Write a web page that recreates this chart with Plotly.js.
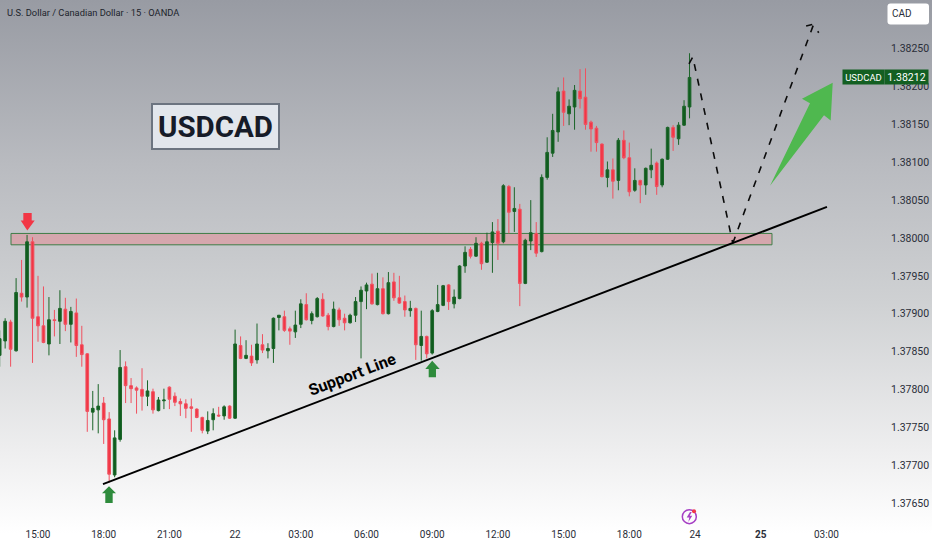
<!DOCTYPE html>
<html>
<head>
<meta charset="utf-8">
<script src="https://cdn.plot.ly/plotly-3.0.1.min.js"></script>
<style>
  html, body { margin: 0; padding: 0; width: 932px; height: 550px; overflow: hidden;
    background: linear-gradient(180deg, #989ba3 0%, #b9bbc0 30%, #cfd1d3 55%, #eeeeef 82%, #ffffff 97%); }
  #plot { width: 932px; height: 550px; }
</style>
</head>
<body>
<div id="plot"></div>
<script>
// 15 minute bars, the first bar is 7 bars before the 15:00 tick
const firstBar = -7;
const opens = [
  1.37845,1.37864,1.37889,1.37851,1.37927,1.37922,1.37995,1.37896,1.37884,1.37860,1.37892,1.37890,1.37906,1.37886,1.37901,1.37859,
  1.37847,1.37770,1.37773,1.37782,1.37761,1.37687,1.37734,1.37830,1.37805,1.37802,1.37800,1.37791,1.37797,1.37772,1.37785,1.37803,
  1.37791,1.37784,1.37781,1.37777,1.37774,1.37763,1.37745,1.37760,1.37766,1.37765,1.37778,1.37762,1.37858,1.37841,1.37844,1.37839,
  1.37859,1.37851,1.37854,1.37895,1.37896,1.37880,1.37876,1.37886,1.37912,1.37891,1.37896,1.37919,1.37898,1.37883,1.37905,1.37894,
  1.37888,1.37898,1.37916,1.37930,1.37939,1.37912,1.37933,1.37900,1.37942,1.37921,1.37916,1.37904,1.37907,1.37858,1.37870,1.37848,
  1.37903,1.37911,1.37938,1.37913,1.37920,1.37963,1.37985,1.37976,1.37993,1.37968,1.37994,1.38009,1.37995,1.38068,1.38035,1.38038,
  1.37940,1.37996,1.38006,1.37982,1.38080,1.38112,1.38140,1.38194,1.38164,1.38173,1.38194,1.38186,1.38153,1.38145,1.38124,1.38080,
  1.38090,1.38076,1.38129,1.38106,1.38063,1.38076,1.38070,1.38090,1.38099,1.38070,1.38104,1.38146,1.38131,1.38149,1.38173
];
const highs = [
  1.37878,1.37894,1.37892,1.37947,1.37971,1.38004,1.38001,1.37950,1.37936,1.37922,1.37905,1.37931,1.37921,1.37909,1.37920,1.37884,
  1.37848,1.37798,1.37807,1.37790,1.37770,1.37746,1.37852,1.37837,1.37815,1.37804,1.37828,1.37812,1.37801,1.37790,1.37801,1.37804,
  1.37796,1.37788,1.37787,1.37788,1.37775,1.37764,1.37771,1.37775,1.37777,1.37779,1.37779,1.37879,1.37870,1.37865,1.37859,1.37887,
  1.37873,1.37861,1.37895,1.37898,1.37904,1.37883,1.37904,1.37919,1.37927,1.37903,1.37922,1.37927,1.37901,1.37916,1.37908,1.37900,
  1.37900,1.37922,1.37936,1.37941,1.37953,1.37954,1.37948,1.37955,1.37954,1.37950,1.37924,1.37917,1.37908,1.37904,1.37871,1.37906,
  1.37938,1.37938,1.37939,1.37932,1.37964,1.37989,1.37988,1.38001,1.37995,1.38007,1.38021,1.38025,1.38071,1.38070,1.38067,1.38045,
  1.37999,1.38050,1.38021,1.38084,1.38133,1.38164,1.38199,1.38212,1.38183,1.38202,1.38223,1.38224,1.38155,1.38148,1.38125,1.38101,
  1.38105,1.38132,1.38142,1.38126,1.38092,1.38077,1.38093,1.38118,1.38101,1.38105,1.38147,1.38149,1.38153,1.38182,1.38244
];
const lows = [
  1.37830,1.37854,1.37830,1.37850,1.37916,1.37908,1.37835,1.37863,1.37861,1.37845,1.37870,1.37860,1.37877,1.37862,1.37843,1.37830,
  1.37744,1.37746,1.37742,1.37728,1.37677,1.37684,1.37731,1.37782,1.37782,1.37768,1.37772,1.37778,1.37768,1.37771,1.37774,1.37774,
  1.37778,1.37765,1.37762,1.37744,1.37762,1.37742,1.37741,1.37746,1.37764,1.37760,1.37761,1.37761,1.37840,1.37840,1.37831,1.37834,
  1.37848,1.37841,1.37835,1.37878,1.37876,1.37859,1.37868,1.37881,1.37891,1.37886,1.37895,1.37896,1.37878,1.37882,1.37884,1.37878,
  1.37887,1.37889,1.37841,1.37906,1.37912,1.37911,1.37899,1.37899,1.37917,1.37913,1.37896,1.37896,1.37839,1.37838,1.37841,1.37846,
  1.37902,1.37910,1.37905,1.37907,1.37919,1.37954,1.37973,1.37975,1.37958,1.37967,1.37954,1.37971,1.37993,1.38006,1.38008,1.37910,
  1.37939,1.37984,1.37975,1.37981,1.38077,1.38107,1.38127,1.38148,1.38149,1.38143,1.38171,1.38143,1.38114,1.38114,1.38080,1.38067,
  1.38052,1.38063,1.38104,1.38055,1.38061,1.38046,1.38057,1.38079,1.38057,1.38067,1.38103,1.38115,1.38123,1.38148,1.38158
];
const closes = [
  1.37867,1.37890,1.37853,1.37928,1.37922,1.37995,1.37894,1.37884,1.37862,1.37892,1.37891,1.37907,1.37886,1.37903,1.37858,1.37846,
  1.37771,1.37775,1.37778,1.37760,1.37688,1.37736,1.37829,1.37805,1.37801,1.37799,1.37791,1.37798,1.37773,1.37786,1.37786,1.37787,
  1.37783,1.37781,1.37775,1.37775,1.37763,1.37746,1.37759,1.37768,1.37765,1.37777,1.37762,1.37860,1.37841,1.37845,1.37835,1.37860,
  1.37852,1.37854,1.37894,1.37898,1.37878,1.37877,1.37885,1.37913,1.37892,1.37900,1.37920,1.37897,1.37883,1.37906,1.37892,1.37888,
  1.37898,1.37916,1.37931,1.37938,1.37913,1.37933,1.37900,1.37941,1.37921,1.37914,1.37905,1.37907,1.37859,1.37870,1.37847,1.37904,
  1.37912,1.37937,1.37916,1.37922,1.37963,1.37981,1.37976,1.37993,1.37966,1.37995,1.38008,1.37993,1.38069,1.38034,1.38039,1.37940,
  1.37997,1.38007,1.37980,1.38080,1.38113,1.38142,1.38193,1.38166,1.38174,1.38195,1.38184,1.38150,1.38144,1.38126,1.38081,1.38090,
  1.38075,1.38129,1.38106,1.38061,1.38076,1.38070,1.38092,1.38096,1.38068,1.38104,1.38146,1.38133,1.38149,1.38174,1.38212
];
const barIndex = opens.map((_, i) => firstBar + i);

// axes
const priceTicks = [1.3765,1.377,1.3775,1.378,1.3785,1.379,1.3795,1.38,1.3805,1.381,1.3815,1.382,1.3825];
const timeTicks = [0,12,24,36,48,60,72,84,96,108,120,132,144];
const timeLabels = ["15:00","18:00","21:00","22","03:00","06:00","09:00","12:00","15:00","18:00","24","<b>25</b>","03:00"];

// drawings on the chart
const zoneX = [-4.93, 134.06];
const zonePrice = [1.37991, 1.38006];
const supportX = [11.87, 144.1];
const supportPrice = [1.37675, 1.38041];
const dashDownX = [118.9, 119.6, 126.9];
const dashDownPrice = [1.38230, 1.38239, 1.37993];
const dashUpX = [126.9, 141.6, 142.6];
const dashUpPrice = [1.37993, 1.38281, 1.38271];
const dashTipX = [140.3, 141.4];
const dashTipPrice = [1.38280, 1.38282];
const bigArrowX = [133.7, 141.0, 139.54, 145.15, 144.78, 143.56, 133.7];
const bigArrowPrice = [1.38069, 1.38178, 1.38184, 1.38205, 1.38155, 1.38162, 1.38069];
const redArrowX = [-1.95, -3.16, -2.68, -2.68, -1.15, -1.15, -0.6, -1.95];
const redArrowPrice = [1.38010, 1.38023, 1.38023, 1.38033, 1.38033, 1.38023, 1.38023, 1.38010];
const greenArrow1X = [12.97, 11.69, 12.29, 12.29, 13.64, 13.64, 14.25, 12.97];
const greenArrow1Price = [1.37672, 1.37663, 1.37663, 1.37650, 1.37650, 1.37663, 1.37663, 1.37672];
const greenArrow2X = [72.0, 70.74, 71.36, 71.36, 72.69, 72.69, 73.37, 72.0];
const greenArrow2Price = [1.37838, 1.37827, 1.37827, 1.37816, 1.37816, 1.37827, 1.37827, 1.37838];
const boltX = [119.08, 118.48, 118.96, 118.78, 119.5, 119.03, 119.4, 119.08];
const boltPrice = [1.37638, 1.37631, 1.37631, 1.37625, 1.37633, 1.37633, 1.37638, 1.37638];

function polygon(x, y, color) {
  return { x: x, y: y, type: "scatter", mode: "lines", fill: "toself", fillcolor: color,
    line: { width: 0, color: color }, hoverinfo: "skip" };
}
function dashed(x, y) {
  return { x: x, y: y, type: "scatter", mode: "lines", hoverinfo: "skip",
    line: { color: "#0b0b0b", width: 1.6, dash: "7px,8px" } };
}

const data = [
  {
    type: "candlestick", x: barIndex, open: opens, high: highs, low: lows, close: closes,
    increasing: { line: { color: "#1b6428", width: 1 }, fillcolor: "#0f5c1e" },
    decreasing: { line: { color: "#f0505f", width: 1 }, fillcolor: "#f23645" },
    hoverinfo: "skip"
  },
  dashed(dashDownX, dashDownPrice),
  dashed(dashUpX, dashUpPrice),
  dashed(dashTipX, dashTipPrice),
  polygon(bigArrowX, bigArrowPrice, "#4fb84f"),
  polygon(redArrowX, redArrowPrice, "#f23645"),
  polygon(greenArrow1X, greenArrow1Price, "#2e8b3c"),
  polygon(greenArrow2X, greenArrow2Price, "#2e8b3c"),
  polygon(boltX, boltPrice, "#a63fc4"),
  { // the circle round the lightning icon
    x: [118.96], y: [1.37632], type: "scatter", mode: "markers", hoverinfo: "skip",
    marker: { symbol: "circle-open", size: 14, color: "#a63fc4", line: { color: "#a63fc4", width: 1.5 } }
  },
  {
    x: [119.82], y: [1.37639], type: "scatter", mode: "markers", hoverinfo: "skip",
    marker: { size: 4, color: "#f23645" }
  }
];

// the CAD button, in paper units of the 885x527 plot area
const btnLeft = 887.5 / 885, btnRight = 929 / 885, btnTop = (527 - 3.5) / 527, btnBottom = (527 - 24.5) / 527;
const rx = 3 / 885, ry = 3 / 527;
const btnPath = `M ${btnLeft + rx} ${btnTop} L ${btnRight - rx} ${btnTop} Q ${btnRight} ${btnTop} ${btnRight} ${btnTop - ry} ` +
  `L ${btnRight} ${btnBottom + ry} Q ${btnRight} ${btnBottom} ${btnRight - rx} ${btnBottom} ` +
  `L ${btnLeft + rx} ${btnBottom} Q ${btnLeft} ${btnBottom} ${btnLeft} ${btnBottom + ry} ` +
  `L ${btnLeft} ${btnTop - ry} Q ${btnLeft} ${btnTop} ${btnLeft + rx} ${btnTop} Z`;

const layout = {
  width: 932, height: 550,
  margin: { l: 0, r: 47, t: 0, b: 23 },
  paper_bgcolor: "rgba(0,0,0,0)", plot_bgcolor: "rgba(0,0,0,0)",
  showlegend: false, dragmode: false, hovermode: false,
  font: { family: "Roboto, sans-serif", size: 10.5, color: "#2a2e39" },
  xaxis: {
    range: [-6.94, 154.7], tickmode: "array", tickvals: timeTicks, ticktext: timeLabels,
    showgrid: false, zeroline: false, showline: false, ticks: "", rangeslider: { visible: false },
    tickfont: { size: 10, color: "#2a2e39" }, automargin: false
  },
  yaxis: {
    side: "right", range: [1.376183, 1.383143], tickmode: "array", tickvals: priceTicks,
    tickformat: ".5f", showgrid: false, zeroline: false, showline: false, ticks: "", ticklen: 0,
    ticklabelstandoff: 5, tickfont: { size: 10.5, color: "#2a2e39" }, automargin: false
  },
  shapes: [
    { type: "rect", layer: "below", x0: zoneX[0], x1: zoneX[1], y0: zonePrice[0], y1: zonePrice[1],
      fillcolor: "rgba(226,140,150,0.55)", line: { color: "#3f7d47", width: 1 } },
    { type: "line", x0: supportX[0], x1: supportX[1], y0: supportPrice[0], y1: supportPrice[1],
      line: { color: "#000000", width: 2 } },
    { type: "path", xref: "paper", yref: "paper", path: btnPath, fillcolor: "#ffffff", line: { width: 0 } }
  ],
  annotations: [
    { xref: "paper", yref: "paper", x: 5 / 885, y: (527 - 13) / 527, xanchor: "left", yanchor: "middle",
      showarrow: false, text: "U.S. Dollar / Canadian Dollar · 15 · OANDA",
      font: { family: "Roboto", size: 9.3, color: "#20242c" } },
    { xref: "paper", yref: "paper", x: 215.5 / 885, y: (527 - 126.7) / 527, xanchor: "center", yanchor: "middle",
      showarrow: false, text: "<b>USDCAD</b>", width: 125, height: 43,
      bgcolor: "#e2e6ec", bordercolor: "#6c7480", borderwidth: 2, borderpad: 0,
      font: { family: "Roboto", size: 29.5, color: "#161b28" } },
    { xref: "paper", yref: "paper", x: 352 / 885, y: (527 - 374) / 527, xanchor: "center", yanchor: "middle",
      showarrow: false, text: "<b>Support Line</b>", textangle: -21,
      font: { family: "Roboto", size: 16, color: "#000000" } },
    { xref: "paper", yref: "y", x: 863.5 / 885, y: 1.38212, xanchor: "center", yanchor: "middle",
      showarrow: false, text: "USDCAD", width: 41, height: 14, bgcolor: "#135f22", borderpad: 0,
      font: { size: 9.5, color: "#ffffff" } },
    { xref: "paper", yref: "y", x: 906.5 / 885, y: 1.38212, xanchor: "center", yanchor: "middle",
      showarrow: false, text: "1.38212", width: 43, height: 14, bgcolor: "#135f22", borderpad: 0,
      font: { size: 10.5, color: "#ffffff" } },
    { xref: "paper", yref: "paper", x: 902 / 885, y: (527 - 13.5) / 527, xanchor: "center", yanchor: "middle",
      showarrow: false, text: "CAD", font: { size: 10, color: "#2a2e39" } }
  ]
};

Plotly.newPlot("plot", data, layout, { displayModeBar: false, staticPlot: true });
</script>
</body>
</html>
